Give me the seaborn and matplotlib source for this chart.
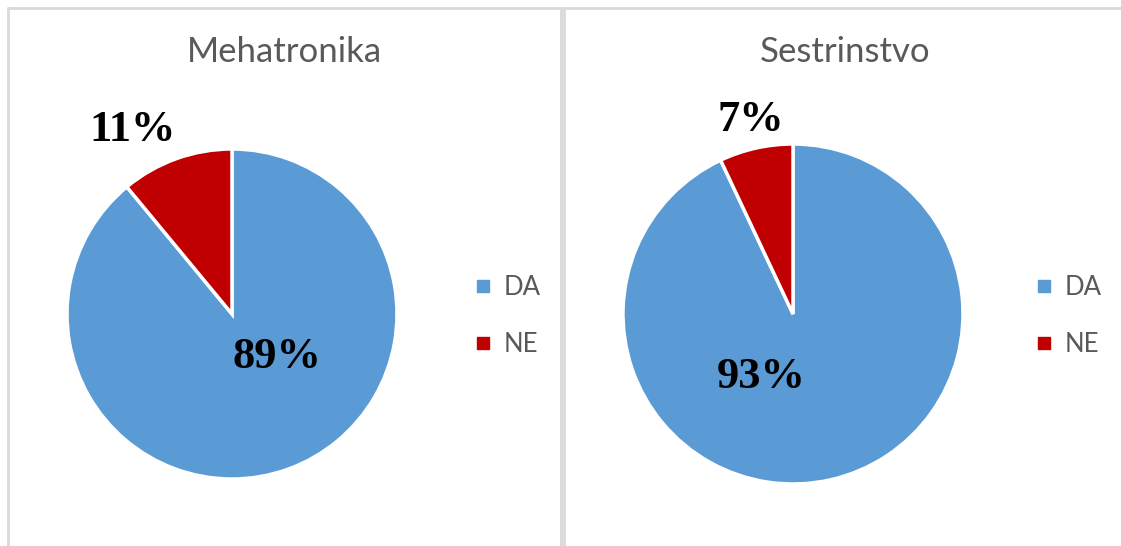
import matplotlib
matplotlib.use("Agg")
import matplotlib.pyplot as plt
from matplotlib.lines import Line2D
import seaborn as sns

# podaci
categories = ["DA", "NE"]
mehatronika = [89, 11]
sestrinstvo = [93, 7]
titles = ["Mehatronika", "Sestrinstvo"]
colors = ["#5b9bd5", "#c00000"]

sns.set_theme(style="white")
plt.rcParams["font.family"] = ["Lato", "DejaVu Sans"]

W, H = 1121, 546
fig = plt.figure(figsize=(W / 100, H / 100), dpi=100)


def px(x, y, w=0, h=0):
    # pixel (top-left origin) -> figure fraction
    return [x / W, 1 - (y + h) / H, w / W, h / H]


# okviri panela (desni i donji rub su izvan slike)
border = dict(color="#d9d9d9", lw=2, transform=fig.transFigure)
for x0, x1 in [(8, 561), (564, W + 5)]:
    fig.add_artist(Line2D([x0 / W, x0 / W], [-0.1, 1 - 8 / H], **border))
    fig.add_artist(Line2D([x0 / W, x1 / W], [1 - 8 / H, 1 - 8 / H], **border))
fig.add_artist(Line2D([561 / W, 561 / W], [-0.1, 1 - 8 / H], **border))

panels = [
    dict(vals=mehatronika, cx=232, cy=314, r=165, tx=284,
         lab=[(0.27, -0.26), (-0.6, 1.115)]),
    dict(vals=sestrinstvo, cx=793, cy=314, r=170, tx=845,
         lab=[(-0.19, -0.37), (-0.25, 1.14)]),
]

for title, p in zip(titles, panels):
    r = p["r"]
    ax = fig.add_axes(px(p["cx"] - r, p["cy"] - r, 2 * r, 2 * r))
    ax.pie(p["vals"], colors=colors, startangle=90, counterclock=False,
           radius=1, wedgeprops=dict(edgecolor="white", linewidth=2.5))
    ax.set_xlim(-1, 1)
    ax.set_ylim(-1, 1)
    ax.set_aspect("equal")
    ax.axis("off")
    for v, (lx, ly) in zip(p["vals"], p["lab"]):
        ax.text(lx, ly, f"{v}%", ha="center", va="center", fontsize=32,
                fontweight="bold", family="Liberation Serif", color="black",
                clip_on=False)
    fig.text(p["tx"] / W, 1 - 52 / H, title, ha="center", va="center",
             fontsize=25, color="#595959")
    handles = [Line2D([], [], marker="s", ls="", color=c, markersize=9)
               for c in colors]
    leg_x = p["cx"] + 225
    fig.legend(handles, categories, loc="center left",
               bbox_to_anchor=((leg_x) / W, 1 - 316 / H),
               frameon=False, fontsize=18.5, labelcolor="#595959",
               handletextpad=0.3, labelspacing=1.25, borderpad=0,
               handlelength=1.0)

fig.savefig("out.png", dpi=100)
